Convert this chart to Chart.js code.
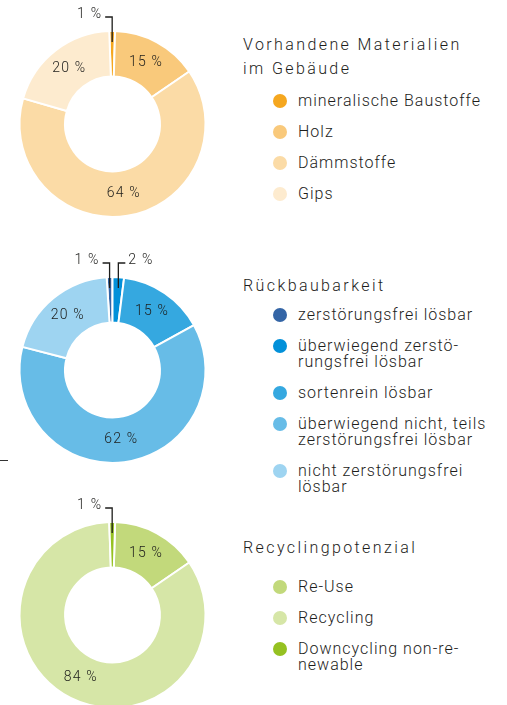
<!DOCTYPE html>
<html lang="de">
<head>
<meta charset="utf-8">
<script src="https://cdn.jsdelivr.net/npm/chart.js@4.4.1/dist/chart.umd.min.js"></script>
<style>
  html, body { margin: 0; padding: 0; background: #fff; width: 507px; height: 705px; overflow: hidden; }
  body { position: relative; font-family: Roboto, "Noto Sans", sans-serif; color: #1d1d1b; }
  canvas { position: absolute; left: 0; }
  .title { position: absolute; left: 243px; font-size: 16px; line-height: 24px; letter-spacing: 2.4px; font-weight: 300; }
  .legend { position: absolute; left: 273px; margin: 0; padding: 0; list-style: none; font-size: 16px; line-height: 16px; letter-spacing: 1px; font-weight: 300; }
  .legend li { position: relative; padding-left: 25px; margin-bottom: 15px; white-space: pre; }
  .legend .dot { position: absolute; left: 0; top: 1px; width: 14px; height: 14px; border-radius: 50%; }
  .tick { position: absolute; left: 0; top: 460px; width: 8px; height: 1px; background: #333; }
</style>
</head>
<body>
<canvas id="chart1" width="226" height="246" style="top:1px"></canvas>
<canvas id="chart2" width="226" height="246" style="top:247px"></canvas>
<canvas id="chart3" width="226" height="246" style="top:492px"></canvas>

<div class="title" style="top:33px">Vorhandene Materialien<br>im Gebäude</div>
<ul class="legend" id="legend1" style="top:93px"></ul>

<div class="title" style="top:274px">Rückbaubarkeit</div>
<ul class="legend" id="legend2" style="top:307px"></ul>

<div class="title" style="top:536px">Recyclingpotenzial</div>
<ul class="legend" id="legend3" style="top:579px"></ul>

<div class="tick"></div>

<script>
// Vorhandene Materialien im Gebäude
const materialLabels = ['mineralische Baustoffe', 'Holz', 'Dämmstoffe', 'Gips'];
const materialValues = [1, 15, 64, 20];
const materialColors = ['#f5a71f', '#f9c97b', '#fbdba6', '#fdebcf'];

// Rückbaubarkeit
const rueckbauLabels = ['zerstörungsfrei lösbar', 'überwiegend zerstö-\nrungsfrei lösbar', 'sortenrein lösbar',
  'überwiegend nicht, teils\nzerstörungsfrei lösbar', 'nicht zerstörungsfrei\nlösbar'];
const rueckbauValues = [1, 2, 15, 62, 20];
const rueckbauColors = ['#3465a6', '#0290d9', '#35a8e0', '#67bce7', '#9ed4f1'];

// Recyclingpotenzial
const recyclingLabels = ['Re-Use', 'Recycling', 'Downcycling non-re-\nnewable'];
const recyclingValues = [15, 84, 1];
const recyclingColors = ['#c2d97b', '#d6e6a7', '#95c121'];

const textColor = '#1d1d1b';

// percent labels: inside the ring, small slices get a leader line to the outside
const sliceLabels = {
  id: 'sliceLabels',
  afterDatasetsDraw(chart) {
    const ctx = chart.ctx;
    const meta = chart.getDatasetMeta(0);
    const values = chart.data.datasets[0].data;
    ctx.save();
    ctx.font = '300 14px Roboto';
    ctx.letterSpacing = '1.2px';
    ctx.fillStyle = textColor;
    ctx.strokeStyle = textColor;
    ctx.lineWidth = 1.3;
    meta.data.forEach((arc, i) => {
      const v = values[i];
      const text = v + ' %';
      if (v >= 5) {
        const p = arc.getCenterPoint();
        ctx.textAlign = 'center';
        ctx.textBaseline = 'middle';
        ctx.fillText(text, p.x, p.y);
      } else {
        const mid = (arc.startAngle + arc.endAngle) / 2;
        const x = arc.x + Math.cos(mid) * arc.outerRadius;
        const top = arc.y - arc.outerRadius;
        const dir = Math.cos(mid) < 0 ? -1 : 1;
        const yLine = top - 14;
        ctx.beginPath();
        ctx.moveTo(x, top + 11);
        ctx.lineTo(x, yLine);
        ctx.lineTo(x + dir * 7, yLine);
        ctx.stroke();
        ctx.textAlign = dir < 0 ? 'right' : 'left';
        ctx.textBaseline = 'alphabetic';
        ctx.fillText(text, x + dir * 10, yLine + 1);
      }
    });
    ctx.restore();
  }
};

function makeDonut(id, labels, values, colors, rotation) {
  return new Chart(document.getElementById(id), {
    type: 'doughnut',
    data: {
      labels: labels,
      datasets: [{
        data: values,
        backgroundColor: colors,
        borderColor: '#ffffff',
        borderWidth: 2,
        hoverOffset: 0
      }]
    },
    options: {
      responsive: false,
      animation: false,
      events: [],
      rotation: rotation,
      radius: 93,
      cutout: '51%',
      layout: { padding: { right: 1 } },
      plugins: { legend: { display: false }, tooltip: { enabled: false } }
    },
    plugins: [sliceLabels]
  });
}

function makeLegend(id, labels, colors) {
  const ul = document.getElementById(id);
  labels.forEach((label, i) => {
    const li = document.createElement('li');
    const dot = document.createElement('span');
    dot.className = 'dot';
    dot.style.background = colors[i];
    li.appendChild(dot);
    li.appendChild(document.createTextNode(label));
    ul.appendChild(li);
  });
}

makeDonut('chart1', materialLabels, materialValues, materialColors, -2);
makeDonut('chart2', rueckbauLabels, rueckbauValues, rueckbauColors, -3.6);
makeDonut('chart3', recyclingLabels, recyclingValues, recyclingColors, 1.6);

makeLegend('legend1', materialLabels, materialColors);
makeLegend('legend2', rueckbauLabels, rueckbauColors);
makeLegend('legend3', recyclingLabels, recyclingColors);
</script>
</body>
</html>
